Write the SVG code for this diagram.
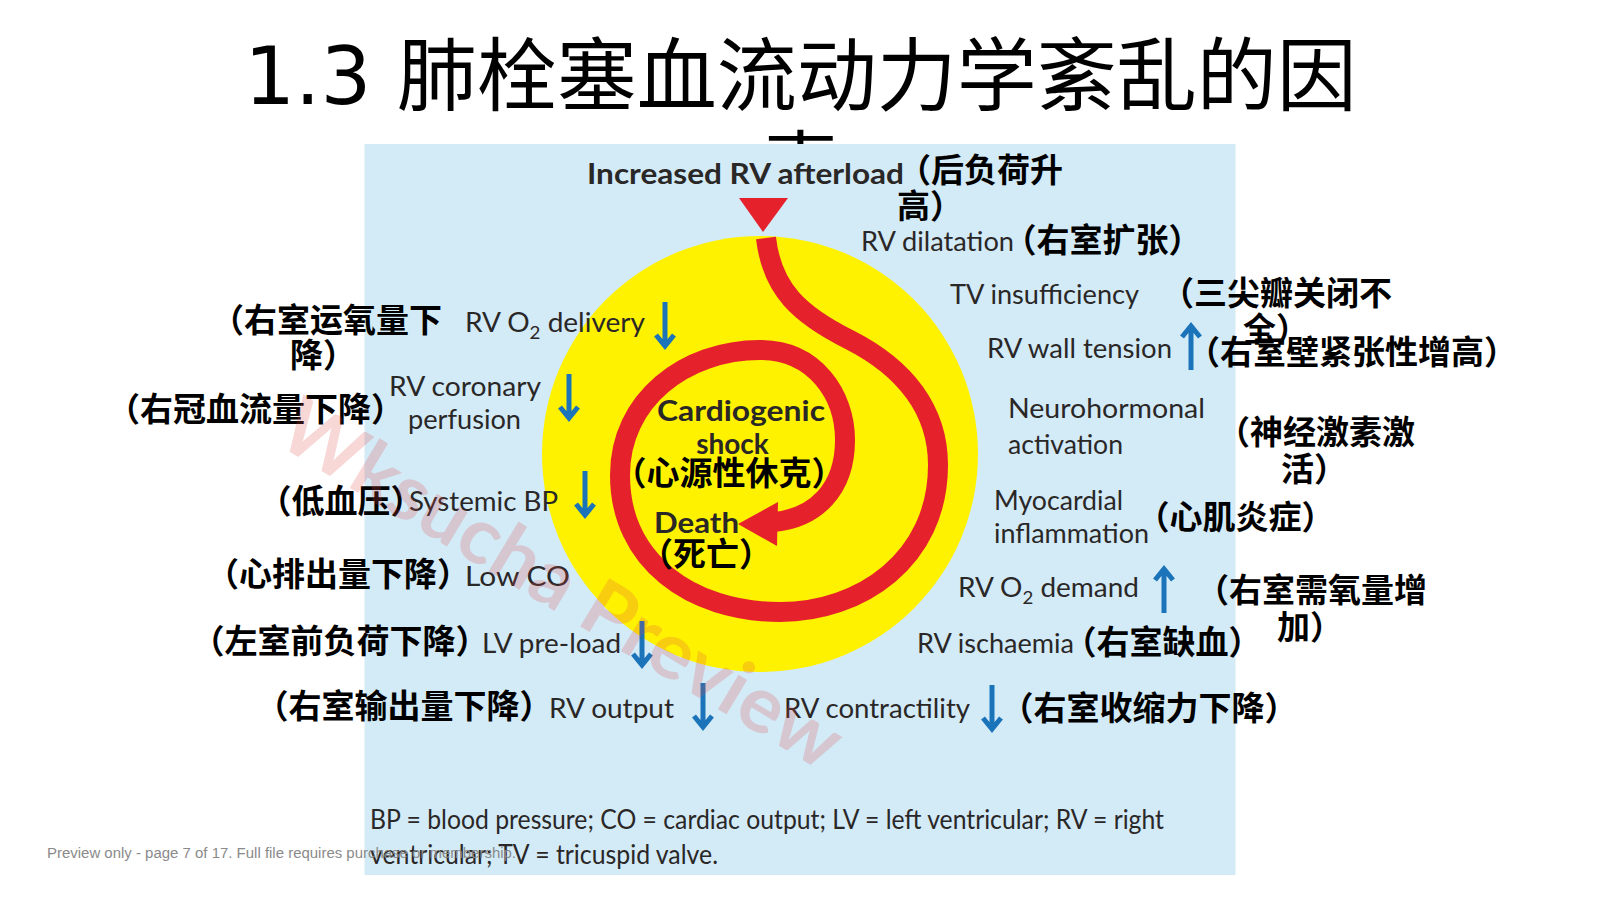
<svg xmlns="http://www.w3.org/2000/svg" width="1601" height="900" viewBox="0 0 1601 900">
<defs>
<style>
.title{font-family:"DejaVu Sans","Noto Sans CJK SC",sans-serif;font-size:80px;fill:#000;}
.en{font-family:Lato,"Liberation Sans",sans-serif;font-size:27px;fill:#2a2727;}
.enb{font-family:Lato,"Liberation Sans",sans-serif;font-size:28px;font-weight:bold;fill:#2a2727;}
.cn{font-family:"Noto Sans CJK SC",sans-serif;font-size:33px;font-weight:bold;fill:#000;}
.m{text-anchor:middle;}
.e{text-anchor:end;}
.arr{fill:none;stroke:#1b74b9;stroke-width:5;}
</style>
<g id="down"><path class="arr" d="M0,0 V44 M-9,33 L0,44 L9,33"/></g>
<g id="up"><path class="arr" d="M0,0 V-44 M-9,-33 L0,-44 L9,-33"/></g>
</defs>
<rect width="1601" height="900" fill="#fff"/>
<g id="title">
<text class="title m" x="800.5" y="104">1.3 肺栓塞血流动力学紊乱的因</text>
<text class="title m" x="800.5" y="197">素</text>
</g>
<g id="panel">
<rect x="364.5" y="144" width="871" height="731" fill="#d3eaf7"/>
<circle cx="760" cy="454" r="218" fill="#fff200"/>
</g>
<g id="connectors">
<path d="M766,238 C772,290 800,315 850,340 C905,368 938,410 938,465 C938,560 860,612 780,612 C690,612 620,560 620,475 C620,400 685,350 760,350 C815,350 845,395 845,440 C845,490 815,518 774,522" fill="none" stroke="#e5222b" stroke-width="20"/>
<polygon points="738,524 778,502 777,546" fill="#e5222b"/>
<polygon points="739,198 788,198 763,232" fill="#e5222b"/>
</g>
<g id="node-top">
<text class="enb" x="587" y="184" textLength="317" lengthAdjust="spacingAndGlyphs">Increased RV afterload</text>
<text class="cn e" x="1063" y="182">（后负荷升</text>
<text class="cn" x="897" y="218">高）</text>
</g>
<g id="node-rv-dilatation">
<text class="en" x="861" y="251" textLength="153" lengthAdjust="spacingAndGlyphs">RV dilatation</text>
<text class="cn m" x="1102.5" y="252">（右室扩张）</text>
</g>
<g id="node-tv">
<text class="en" x="950" y="304" textLength="189" lengthAdjust="spacingAndGlyphs">TV insufficiency</text>
<text class="cn e" x="1392" y="305">（三尖瓣关闭不</text>
<text class="cn" x="1243" y="341">全）</text>
</g>
<g id="node-wall">
<text class="en" x="987" y="358" textLength="185" lengthAdjust="spacingAndGlyphs">RV wall tension</text>
<use href="#up" x="1191" y="370"/>
<text class="cn m" x="1352" y="364">（右室壁紧张性增高）</text>
</g>
<g id="node-neuro">
<text class="en" x="1008" y="418" textLength="197" lengthAdjust="spacingAndGlyphs">Neurohormonal</text>
<text class="en" x="1008" y="454" textLength="115" lengthAdjust="spacingAndGlyphs">activation</text>
<text class="cn e" x="1415" y="444">（神经激素激</text>
<text class="cn" x="1281" y="481">活）</text>
</g>
<g id="node-myo">
<text class="en" x="994" y="510" textLength="129" lengthAdjust="spacingAndGlyphs">Myocardial</text>
<text class="en" x="994" y="543" textLength="155" lengthAdjust="spacingAndGlyphs">inflammation</text>
<text class="cn m" x="1235.5" y="529">（心肌炎症）</text>
</g>
<g id="node-demand">
<text class="en" x="958" y="597" textLength="181" lengthAdjust="spacingAndGlyphs">RV O<tspan font-size="18" dy="7">2</tspan><tspan dy="-7"> demand</tspan></text>
<use href="#up" x="1164" y="613"/>
<text class="cn e" x="1427" y="602">（右室需氧量增</text>
<text class="cn" x="1277" y="639">加）</text>
</g>
<g id="node-ischaemia">
<text class="en" x="917" y="653" textLength="157" lengthAdjust="spacingAndGlyphs">RV ischaemia</text>
<text class="cn m" x="1162.5" y="654">（右室缺血）</text>
</g>
<g id="node-contractility">
<text class="en" x="784" y="718" textLength="186" lengthAdjust="spacingAndGlyphs">RV contractility</text>
<use href="#down" x="992" y="685"/>
<text class="cn m" x="1149" y="720">（右室收缩力下降）</text>
</g>
<g id="node-output">
<text class="cn m" x="404" y="718">（右室输出量下降）</text>
<text class="en" x="549" y="718" textLength="125" lengthAdjust="spacingAndGlyphs">RV output</text>
<use href="#down" x="703" y="683"/>
</g>
<g id="node-preload">
<text class="cn m" x="340" y="653">（左室前负荷下降）</text>
<text class="en" x="482" y="653" textLength="139" lengthAdjust="spacingAndGlyphs">LV pre-load</text>
<use href="#down" x="642" y="621"/>
</g>
<g id="node-lowco">
<text class="cn m" x="338" y="586">（心排出量下降）</text>
<text class="en" x="465" y="586" textLength="105" lengthAdjust="spacingAndGlyphs">Low CO</text>
</g>
<g id="node-bp">
<text class="cn m" x="341" y="513">（低血压）</text>
<text class="en" x="409" y="511" textLength="149" lengthAdjust="spacingAndGlyphs">Systemic BP</text>
<use href="#down" x="585" y="471"/>
</g>
<g id="node-coronary">
<text class="cn m" x="255.5" y="421">（右冠血流量下降）</text>
<text class="en" x="389" y="396" textLength="152" lengthAdjust="spacingAndGlyphs">RV coronary</text>
<text class="en" x="408" y="429" textLength="113" lengthAdjust="spacingAndGlyphs">perfusion</text>
<use href="#down" x="569" y="374"/>
</g>
<g id="node-delivery">
<text class="cn e" x="442" y="332">（右室运氧量下</text>
<text class="cn" x="290" y="367">降）</text>
<text class="en" x="465" y="332" textLength="180" lengthAdjust="spacingAndGlyphs">RV O<tspan font-size="18" dy="7">2</tspan><tspan dy="-7"> delivery</tspan></text>
<use href="#down" x="665" y="302"/>
</g>
<g id="node-center">
<text class="enb m" x="741" y="421" textLength="168" lengthAdjust="spacingAndGlyphs">Cardiogenic</text>
<text class="enb m" x="732.5" y="454">shock</text>
<text class="cn m" x="729" y="485">（心源性休克）</text>
<text class="enb" x="654" y="533" textLength="85" lengthAdjust="spacingAndGlyphs">Death</text>
<text class="cn m" x="706" y="566">（死亡）</text>
</g>
<g id="footnote">
<text class="en" x="370" y="829" font-size="26" textLength="794" lengthAdjust="spacingAndGlyphs">BP = blood pressure; CO = cardiac output; LV = left ventricular; RV = right</text>
<text class="en" x="370" y="864" font-size="26" textLength="348" lengthAdjust="spacingAndGlyphs">ventricular; TV = tricuspid valve.</text>
</g>
<text x="562" y="584" transform="rotate(31 562 584)" text-anchor="middle" dy="27" font-family="Lato,'Liberation Sans',sans-serif" font-size="78" font-weight="bold" fill="#e04848" fill-opacity="0.22" textLength="640" lengthAdjust="spacingAndGlyphs">Wksucha Preview</text>
<text x="47" y="858" font-family="'Liberation Sans',sans-serif" font-size="14" fill="#8a8a8a" textLength="469" lengthAdjust="spacingAndGlyphs">Preview only - page 7 of 17. Full file requires purchase or membership.</text>
</svg>
